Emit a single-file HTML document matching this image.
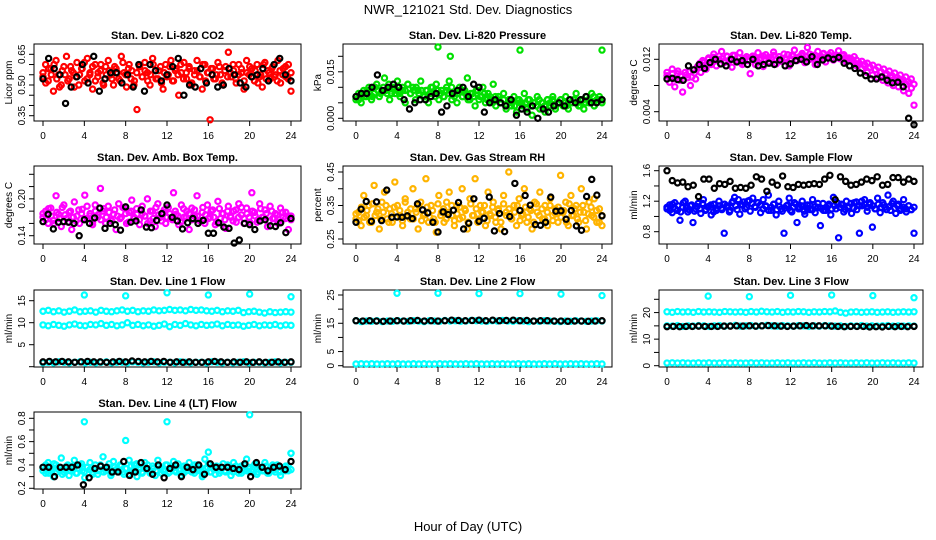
<!DOCTYPE html>
<html><head><meta charset="utf-8">
<style>
html,body{margin:0;padding:0;background:#fff;}
svg{display:block;font-family:"Liberation Sans",Arial,sans-serif;}
</style></head>
<body>
<svg id="chart" width="936" height="540" viewBox="0 0 936 540" xmlns="http://www.w3.org/2000/svg">
<rect width="936" height="540" fill="#fff"/>
<text x="468" y="14" text-anchor="middle" font-size="13">NWR_121021 Std. Dev. Diagnostics</text>
<text x="468" y="531" text-anchor="middle" font-size="13">Hour of Day (UTC)</text>
</svg>
<script>
// ---------- data ----------
const xTickLabels = ["0","4","8","12","16","20","24"];
const co2Main = [0.56,0.60,0.52,0.58,0.47,0.62,0.55,0.50,0.59,0.64,0.53,0.57,0.49,0.61,0.55,0.58,0.52,0.63,0.56,0.48,0.60,0.54,0.57,0.51,0.59,0.62,0.55,0.50,0.58,0.53,0.64,0.56,0.49,0.60,0.57,0.52,0.38,0.59,0.54,0.61,0.56,0.50,0.63,0.57,0.53,0.59,0.48,0.60,0.55,0.62,0.52,0.58,0.45,0.56,0.61,0.53,0.59,0.50,0.57,0.62,0.54,0.48,0.60,0.56,0.33,0.58,0.53,0.61,0.55,0.50,0.59,0.66,0.54,0.57,0.51,0.60,0.56,0.48,0.62,0.55,0.58,0.52,0.60,0.54,0.49,0.61,0.57,0.53,0.59,0.55,0.62,0.51,0.58,0.54,0.60,0.47];
const co2Extra = [0.54,0.51,0.58,0.55,0.60,0.53,0.49,0.57,0.55,0.52,0.59,0.56,0.54,0.50,0.58,0.61,0.53,0.55,0.59,0.52,0.56,0.60,0.50,0.55,0.57,0.53,0.59,0.56,0.52,0.61,0.55,0.58,0.53,0.50,0.56,0.59,0.54,0.57,0.52,0.55,0.60,0.53,0.57,0.51,0.56,0.54,0.59,0.52,0.57,0.55,0.60,0.53,0.56,0.58,0.51,0.55,0.57,0.54,0.60,0.52,0.56,0.58,0.53,0.55,0.59,0.51,0.57,0.54,0.56,0.60,0.53,0.55,0.58,0.52,0.56,0.59,0.54,0.57,0.51,0.55,0.60,0.53,0.56,0.58,0.54,0.52,0.57,0.55,0.59,0.53,0.56];
const co2Ref = [0.53,0.63,0.58,0.55,0.41,0.49,0.54,0.60,0.51,0.64,0.47,0.53,0.56,0.56,0.51,0.55,0.49,0.60,0.47,0.60,0.57,0.52,0.55,0.59,0.63,0.45,0.50,0.49,0.58,0.51,0.55,0.49,0.50,0.58,0.55,0.51,0.49,0.54,0.55,0.58,0.52,0.60,0.63,0.55,0.52];
const pressMain = [0.006,0.008,0.005,0.009,0.007,0.010,0.006,0.008,0.011,0.007,0.009,0.013,0.008,0.006,0.010,0.008,0.012,0.007,0.009,0.005,0.011,0.008,0.010,0.006,0.009,0.012,0.007,0.009,0.005,0.010,0.008,0.011,0.006,0.009,0.007,0.010,0.012,0.006,0.008,0.005,0.010,0.007,0.009,0.013,0.006,0.008,0.004,0.009,0.007,0.010,0.005,0.008,0.006,0.011,0.004,0.007,0.005,0.008,0.003,0.006,0.004,0.007,0.002,0.006,0.005,0.008,0.003,0.006,0.001,0.005,0.007,0.003,0.005,0.002,0.006,0.004,0.007,0.003,0.005,0.006,0.004,0.007,0.003,0.005,0.006,0.008,0.004,0.006,0.003,0.007,0.005,0.008,0.004,0.006,0.007,0.005];
const pressExtra = [0.007,0.006,0.008,0.007,0.009,0.008,0.007,0.010,0.009,0.008,0.010,0.009,0.011,0.008,0.010,0.009,0.008,0.010,0.009,0.011,0.008,0.009,0.010,0.008,0.009,0.007,0.009,0.008,0.010,0.007,0.009,0.008,0.007,0.009,0.008,0.010,0.007,0.008,0.009,0.007,0.008,0.006,0.008,0.007,0.009,0.006,0.007,0.008,0.006,0.007,0.005,0.007,0.006,0.005,0.006,0.004,0.006,0.005,0.004,0.006,0.005,0.004,0.005,0.006,0.004,0.005,0.004,0.006,0.005,0.004,0.006,0.005,0.006,0.004,0.005,0.006,0.005,0.004,0.006,0.005,0.006,0.005,0.004,0.006,0.005,0.006,0.005,0.007,0.005,0.006,0.006];
const pressRef = [0.007,0.008,0.008,0.010,0.014,0.009,0.010,0.011,0.010,0.006,0.003,0.005,0.006,0.006,0.007,0.008,0.002,0.004,0.008,0.009,0.010,0.007,0.011,0.010,0.002,0.005,0.006,0.005,0.004,0.006,0.001,0.003,0.002,0.004,0.000,0.003,0.002,0.004,0.005,0.004,0.006,0.005,0.006,0.007,0.005,0.005,0.006];
const pressOutHours = [8,9.2,16,24];
const pressOutVals = [0.023,0.020,0.022,0.022];
const tempMain = [0.0095,0.0085,0.0105,0.0078,0.0098,0.0088,0.0070,0.0100,0.0092,0.0080,0.0104,0.0090,0.0110,0.0100,0.0115,0.0105,0.0122,0.0112,0.0128,0.0110,0.0120,0.0132,0.0115,0.0125,0.0118,0.0108,0.0126,0.0116,0.0130,0.0112,0.0122,0.0118,0.0098,0.0125,0.0112,0.0130,0.0119,0.0109,0.0127,0.0116,0.0122,0.0131,0.0113,0.0124,0.0117,0.0128,0.0120,0.0110,0.0126,0.0134,0.0118,0.0124,0.0129,0.0115,0.0138,0.0120,0.0126,0.0112,0.0132,0.0122,0.0128,0.0116,0.0124,0.0130,0.0119,0.0125,0.0133,0.0121,0.0127,0.0116,0.0122,0.0118,0.0124,0.0110,0.0114,0.0106,0.0112,0.0100,0.0108,0.0096,0.0104,0.0092,0.0100,0.0088,0.0096,0.0084,0.0092,0.0080,0.0088,0.0078,0.0086,0.0072,0.0082,0.0068,0.0076,0.0050];
const tempExtra = [0.0100,0.0092,0.0098,0.0090,0.0102,0.0094,0.0088,0.0096,0.0101,0.0093,0.0099,0.0108,0.0114,0.0118,0.0110,0.0120,0.0116,0.0123,0.0118,0.0125,0.0121,0.0117,0.0124,0.0120,0.0126,0.0119,0.0122,0.0115,0.0121,0.0124,0.0118,0.0123,0.0120,0.0116,0.0122,0.0125,0.0119,0.0123,0.0121,0.0126,0.0120,0.0124,0.0118,0.0122,0.0127,0.0121,0.0125,0.0119,0.0123,0.0126,0.0120,0.0124,0.0128,0.0122,0.0126,0.0121,0.0125,0.0129,0.0123,0.0127,0.0122,0.0126,0.0124,0.0121,0.0125,0.0122,0.0118,0.0121,0.0116,0.0119,0.0113,0.0117,0.0110,0.0114,0.0108,0.0111,0.0104,0.0108,0.0101,0.0105,0.0098,0.0102,0.0095,0.0099,0.0092,0.0096,0.0089,0.0093,0.0086,0.0090,0.0082];
const tempRef = [0.0090,0.0091,0.0089,0.0088,0.0110,0.0104,0.0112,0.0106,0.0115,0.0120,0.0113,0.0110,0.0120,0.0116,0.0118,0.0112,0.0120,0.0110,0.0112,0.0114,0.0112,0.0119,0.0110,0.0113,0.0118,0.0120,0.0116,0.0124,0.0112,0.0119,0.0122,0.0120,0.0123,0.0114,0.0110,0.0106,0.0099,0.0095,0.0090,0.0090,0.0093,0.0088,0.0084,0.0085,0.0078,0.0030,0.0020];
const ambMain = [0.170,0.180,0.160,0.185,0.165,0.205,0.175,0.155,0.190,0.168,0.178,0.150,0.195,0.172,0.160,0.183,0.206,0.168,0.176,0.158,0.190,0.170,0.217,0.180,0.160,0.188,0.166,0.175,0.150,0.192,0.170,0.185,0.160,0.178,0.198,0.168,0.175,0.158,0.188,0.172,0.200,0.164,0.180,0.155,0.192,0.170,0.178,0.160,0.186,0.168,0.210,0.175,0.158,0.190,0.170,0.180,0.150,0.185,0.172,0.205,0.165,0.178,0.160,0.190,0.170,0.182,0.158,0.196,0.168,0.176,0.152,0.188,0.170,0.180,0.162,0.192,0.174,0.160,0.185,0.170,0.210,0.178,0.162,0.192,0.170,0.182,0.155,0.188,0.168,0.176,0.160,0.185,0.170,0.178,0.150,0.172];
const ambExtra = [0.176,0.166,0.184,0.172,0.160,0.178,0.168,0.186,0.174,0.162,0.180,0.170,0.164,0.182,0.176,0.168,0.188,0.172,0.162,0.180,0.174,0.166,0.184,0.170,0.178,0.164,0.182,0.172,0.168,0.186,0.176,0.162,0.180,0.170,0.184,0.166,0.176,0.172,0.160,0.180,0.168,0.186,0.174,0.164,0.182,0.170,0.176,0.166,0.180,0.172,0.162,0.184,0.170,0.176,0.166,0.182,0.172,0.164,0.186,0.174,0.168,0.180,0.170,0.162,0.184,0.176,0.166,0.180,0.172,0.164,0.182,0.170,0.186,0.168,0.176,0.162,0.180,0.172,0.166,0.184,0.170,0.176,0.164,0.180,0.168,0.174,0.162,0.178,0.168,0.172,0.166];
const ambRef = [0.163,0.175,0.151,0.162,0.163,0.162,0.160,0.140,0.166,0.160,0.169,0.185,0.152,0.160,0.158,0.149,0.187,0.162,0.164,0.182,0.154,0.153,0.165,0.176,0.190,0.170,0.164,0.151,0.161,0.168,0.160,0.165,0.144,0.144,0.161,0.154,0.152,0.128,0.133,0.160,0.158,0.150,0.164,0.166,0.156,0.155,0.161,0.145,0.168];
const rhMain = [0.310,0.330,0.290,0.380,0.320,0.350,0.300,0.410,0.330,0.280,0.360,0.390,0.310,0.340,0.300,0.420,0.350,0.320,0.290,0.370,0.330,0.310,0.400,0.340,0.280,0.360,0.320,0.430,0.300,0.350,0.310,0.270,0.380,0.330,0.300,0.360,0.390,0.320,0.290,0.350,0.310,0.400,0.340,0.280,0.370,0.320,0.430,0.300,0.350,0.330,0.290,0.390,0.320,0.360,0.300,0.340,0.280,0.380,0.330,0.450,0.310,0.350,0.290,0.370,0.320,0.400,0.300,0.340,0.280,0.360,0.330,0.390,0.310,0.350,0.290,0.370,0.320,0.340,0.300,0.440,0.330,0.360,0.290,0.380,0.320,0.350,0.300,0.400,0.330,0.280,0.360,0.320,0.370,0.300,0.340,0.290];
const rhExtra = [0.325,0.305,0.345,0.315,0.335,0.300,0.355,0.320,0.340,0.310,0.330,0.350,0.300,0.325,0.345,0.315,0.335,0.305,0.360,0.320,0.340,0.310,0.330,0.350,0.305,0.325,0.345,0.315,0.335,0.300,0.355,0.320,0.340,0.310,0.330,0.350,0.305,0.325,0.345,0.315,0.335,0.300,0.355,0.320,0.340,0.310,0.330,0.350,0.305,0.325,0.345,0.315,0.335,0.300,0.355,0.320,0.340,0.310,0.330,0.350,0.305,0.325,0.345,0.315,0.335,0.300,0.355,0.320,0.340,0.310,0.330,0.350,0.305,0.325,0.345,0.315,0.335,0.300,0.355,0.320,0.340,0.310,0.330,0.350,0.305,0.325,0.345,0.315,0.335,0.300,0.320];
const rhRef = [0.300,0.339,0.362,0.303,0.361,0.305,0.396,0.315,0.316,0.315,0.319,0.311,0.355,0.337,0.328,0.300,0.271,0.331,0.323,0.336,0.359,0.280,0.297,0.370,0.303,0.312,0.375,0.274,0.326,0.272,0.317,0.416,0.335,0.380,0.351,0.293,0.291,0.300,0.375,0.333,0.334,0.309,0.335,0.289,0.276,0.377,0.428,0.381,0.319];
const flowMain = [1.10,1.15,1.05,1.18,1.08,0.95,1.12,1.20,1.06,1.14,0.92,1.10,1.17,1.04,1.22,1.09,1.13,1.02,1.16,1.08,1.20,1.11,0.78,1.14,1.06,1.18,1.25,1.09,1.03,1.15,1.10,1.20,1.07,1.24,1.12,1.18,1.05,1.22,1.13,1.28,1.08,1.16,1.02,1.20,1.10,0.78,1.14,1.24,1.06,1.18,0.92,1.12,1.20,1.03,1.15,1.09,1.22,1.05,1.12,0.88,1.17,1.08,1.14,1.02,1.25,1.10,0.72,1.16,1.06,1.20,1.12,1.04,1.18,1.09,0.78,1.14,1.22,1.07,1.16,0.86,1.10,1.24,1.05,1.18,1.12,1.28,1.08,1.20,1.04,1.16,1.10,1.22,1.06,1.14,1.09,0.78];
const flowExtra = [1.12,1.08,1.16,1.10,1.14,1.06,1.18,1.11,1.09,1.15,1.07,1.13,1.10,1.17,1.08,1.12,1.15,1.06,1.11,1.14,1.09,1.16,1.12,1.08,1.20,1.14,1.22,1.16,1.19,1.12,1.21,1.17,1.13,1.18,1.15,1.10,1.14,1.08,1.12,1.16,1.09,1.13,1.07,1.11,1.15,1.08,1.12,1.16,1.10,1.14,1.07,1.11,1.15,1.09,1.13,1.17,1.11,1.08,1.12,1.16,1.10,1.14,1.18,1.12,1.15,1.09,1.13,1.17,1.11,1.19,1.14,1.20,1.16,1.12,1.18,1.14,1.10,1.16,1.12,1.15,1.09,1.13,1.17,1.11,1.14,1.08,1.12,1.10,1.14,1.09,1.12];
const flowRef = [1.60,1.47,1.44,1.45,1.39,1.41,1.26,1.49,1.49,1.37,1.43,1.42,1.46,1.37,1.38,1.37,1.41,1.52,1.49,1.33,1.45,1.41,1.53,1.39,1.38,1.42,1.41,1.42,1.43,1.42,1.49,1.54,1.22,1.52,1.46,1.41,1.42,1.45,1.49,1.47,1.52,1.41,1.42,1.51,1.51,1.45,1.49,1.46];
const l1Upper = [12.6,12.8,12.5,12.7,12.4,12.6,12.9,12.5,12.6,12.7,12.4,12.8,12.6,12.5,12.7,12.9,12.6,12.8,12.5,12.7,12.6,12.9,12.7,12.8,13.0,12.8,12.9,12.7,13.0,12.8,12.9,12.7,12.6,12.8,12.5,12.7,12.6,12.8,12.3,12.5,12.6,12.4,12.2,12.5,12.3,12.4,12.5,12.4];
const l1Mid = [9.5,9.3,9.6,9.4,9.2,9.5,9.7,9.4,9.3,9.6,9.5,9.8,9.4,9.6,9.3,9.5,10.0,9.4,9.6,9.3,9.5,9.2,9.4,9.7,9.1,9.6,9.4,9.8,9.5,9.3,9.6,9.4,9.5,9.7,9.3,9.6,9.4,9.5,9.2,9.4,9.6,9.3,9.5,9.4,9.6,9.3,9.5,9.4];
const l1Low = [0.9,1.0,0.9,1.1,1.0,0.9,1.0,1.1,0.9,1.0,0.9,1.0,1.1,0.9,1.0,1.0,0.9,1.1,1.0,0.9,1.0,1.1,0.9,1.0,1.0,0.9,1.1,1.0,0.9,1.0,1.0,0.9,1.1,1.0,0.9,1.0,0.9,1.0,1.1,0.9,1.0,1.0,0.9,1.0,1.1,0.9,1.0,1.0];
const l1Ref = [1.1,1.2,1.1,1.2,1.1,1.0,1.1,1.2,1.1,1.1,1.0,1.1,1.2,1.1,1.3,1.2,1.1,1.2,1.1,1.2,1.0,1.1,1.0,1.1,1.0,1.0,1.1,1.2,1.1,1.0,1.1,1.0,1.1,1.0,1.1,1.0,1.0,1.1,1.0,1.1];
const l1OutHours = [4,8,12,16,20,24];
const l1OutVals = [16.3,16.1,16.8,16.3,16.5,15.9];
const l2Upper = [15.9,15.6,15.8,15.7,15.9,15.6,15.8,15.7,15.9,15.8,15.7,15.9,15.8,15.6,15.9,15.8,15.7,16.0,15.8,15.9,15.7,15.8,16.0,15.9,15.8,15.7,15.9,15.8,16.0,15.8,15.7,15.9,15.8,15.6,15.8,15.7,15.9,15.8,15.7,15.6,15.8,15.7,15.9,15.8,15.7,15.8,15.9,15.8];
const l2Low = [0.6,0.7,0.6,0.7,0.6,0.6,0.7,0.6,0.7,0.6,0.6,0.7,0.6,0.7,0.6,0.6,0.7,0.6,0.7,0.6,0.6,0.7,0.6,0.7,0.6,0.6,0.7,0.6,0.7,0.6,0.6,0.7,0.6,0.7,0.6,0.6,0.7,0.6,0.7,0.6,0.6,0.7,0.6,0.7,0.6,0.6,0.7,0.6];
const l2Ref = [15.9,15.8,15.9,15.8,15.7,15.8,15.9,15.8,15.9,16.0,15.8,15.9,15.8,15.9,16.1,16.0,15.9,16.0,16.1,15.9,16.1,15.9,16.0,16.1,15.9,16.0,15.8,15.9,15.9,15.8,15.8,15.7,15.8,15.8,15.7,15.8,15.9];
const l2OutHours = [4,8,12,16,20,24];
const l2OutVals = [25.6,25.6,25.5,25.5,25.3,24.8];
const l3Upper = [20.3,20.1,20.4,20.2,20.3,20.1,20.4,20.2,20.3,20.2,20.1,20.4,20.3,20.2,20.3,20.1,20.4,20.2,20.5,20.3,20.2,20.4,20.1,20.3,20.2,20.4,20.3,20.1,20.3,20.2,20.4,20.3,20.6,20.1,19.8,20.2,20.3,20.1,20.2,20.3,20.1,20.2,20.3,20.1,20.2,20.3,20.2,20.3];
const l3Mid = [15.0,14.9,15.1,14.8,15.0,14.9,15.1,15.0,14.8,15.0,15.1,14.9,15.0,15.2,14.9,15.0,15.1,14.9,15.0,15.2,15.0,14.9,15.1,15.0,14.9,15.1,15.0,14.8,15.0,14.9,15.1,15.0,14.9,15.0,14.8,15.0,14.9,15.1,14.9,15.0,14.9,15.0,15.1,14.9,15.0,14.9,15.0,14.9];
const l3Low = [1.0,1.1,1.0,1.1,1.0,1.0,1.1,1.0,1.1,1.0,1.0,1.1,1.0,1.1,1.0,1.0,1.1,1.0,1.1,1.0,1.0,1.1,1.0,1.1,1.0,1.0,1.1,1.0,1.1,1.0,1.0,1.1,1.0,1.1,1.0,1.0,1.1,1.0,1.1,1.0,1.0,1.1,1.0,1.1,1.0,1.0,1.1,1.0];
const l3Ref = [14.7,14.8,14.7,14.8,14.8,14.9,14.8,14.8,14.8,14.9,14.9,15.0,14.9,15.0,14.9,15.0,15.1,15.0,14.9,14.8,14.9,15.0,15.1,15.0,15.0,15.0,14.9,14.8,14.7,14.8,14.8,14.8,14.6,14.7,14.6,14.8,14.7,14.8,14.7,14.8];
const l3OutHours = [4,8,12,16,20,24];
const l3OutVals = [26.2,26.0,26.5,26.6,26.4,25.6];
const l4Main = [0.38,0.33,0.42,0.35,0.30,0.40,0.36,0.46,0.34,0.39,0.31,0.37,0.44,0.33,0.40,0.35,0.29,0.38,0.42,0.34,0.37,0.32,0.40,0.47,0.35,0.38,0.31,0.43,0.36,0.34,0.39,0.32,0.37,0.44,0.35,0.40,0.30,0.38,0.34,0.42,0.36,0.33,0.39,0.31,0.44,0.37,0.35,0.40,0.33,0.38,0.43,0.34,0.36,0.31,0.39,0.35,0.42,0.37,0.33,0.40,0.36,0.30,0.45,0.38,0.34,0.39,0.32,0.37,0.35,0.41,0.34,0.38,0.31,0.42,0.36,0.33,0.39,0.35,0.45,0.37,0.34,0.40,0.32,0.38,0.35,0.42,0.33,0.37,0.40,0.34,0.38,0.31,0.36,0.39,0.35,0.50];
const l4Extra = [0.35,0.40,0.33,0.37,0.41,0.34,0.38,0.32,0.36,0.40,0.35,0.39,0.33,0.37,0.41,0.34,0.38,0.36,0.32,0.40,0.35,0.39,0.34,0.37,0.41,0.33,0.38,0.36,0.40,0.34,0.37,0.32,0.39,0.35,0.41,0.36,0.33,0.38,0.40,0.34,0.37,0.35,0.39,0.33,0.36,0.40,0.34,0.38,0.35,0.41,0.36,0.33,0.39,0.37,0.34,0.40,0.35,0.38,0.32,0.37,0.41,0.34,0.36,0.39,0.33,0.38,0.35,0.40,0.36,0.34,0.39,0.37,0.33,0.40,0.35,0.38,0.36,0.41,0.34,0.37,0.35,0.39,0.33,0.38,0.36,0.40,0.34,0.37,0.35,0.39,0.36];
const l4Ref = [0.38,0.38,0.30,0.38,0.38,0.38,0.40,0.23,0.29,0.37,0.39,0.38,0.34,0.34,0.43,0.31,0.34,0.42,0.37,0.32,0.40,0.29,0.37,0.40,0.30,0.38,0.36,0.40,0.32,0.41,0.38,0.38,0.38,0.37,0.36,0.41,0.30,0.42,0.38,0.35,0.38,0.39,0.36,0.43];
const l4OutHours = [4,8,12,16,20,24];
const l4OutVals = [0.77,0.61,0.77,0.51,0.83,0.50];

// ---------- layout ----------
const svg = document.getElementById('chart');
const NS = 'http://www.w3.org/2000/svg';
const cols = [{l:34,r:301,x0:43,x24:291},{l:343,r:612,x0:356,x24:602},{l:659,r:923,x0:667,x24:914}];
const rows = [{t:44,b:121},{t:166,b:244},{t:290,b:367},{t:412,b:489}];

function mk(tag, attrs, parent){
  const e = document.createElementNS(NS, tag);
  for (const k in attrs) e.setAttribute(k, attrs[k]);
  (parent||svg).appendChild(e);
  return e;
}

function makePanel(name, title, ylab, c, r, v0, p0, v1, p1, ticks, labels){
  const col = cols[c], row = rows[r];
  const g = mk('g', {});
  
  
  const xs = h => col.x0 + (col.x24 - col.x0) * h / 24;
  const ys = v => p0 + (v - v0) * (p1 - p0) / (v1 - v0);
  const box = mk('rect', {x:col.l, y:row.t, width:col.r-col.l, height:row.b-row.t, fill:'none', stroke:'#000', 'stroke-width':1}, g);
  
  
  const t = mk('text', {x:(col.l+col.r)/2, y:row.t-5, 'text-anchor':'middle', 'font-size':11, 'font-weight':'bold'}, g);
  t.textContent = title;
  
  
  const xa = mk('g', {}, g);
  
  
  mk('line', {x1:xs(0), x2:xs(24), y1:row.b, y2:row.b, stroke:'#000'}, xa);
  xTickLabels.forEach(lb => {
    const x = xs(Number(lb));
    mk('line', {x1:x, x2:x, y1:row.b, y2:row.b+5, stroke:'#000'}, xa);
    const tx = mk('text', {x:x, y:row.b+18, 'text-anchor':'middle', 'font-size':10}, xa);
    tx.textContent = lb;
    
    
  });
  const ya = mk('g', {}, g);
  
  
  mk('line', {x1:col.l, x2:col.l, y1:ys(ticks[0]), y2:ys(ticks[ticks.length-1]), stroke:'#000'}, ya);
  ticks.forEach(v => {
    const y = ys(v);
    mk('line', {x1:col.l-5, x2:col.l, y1:y, y2:y, stroke:'#000'}, ya);
  });
  labels.forEach(lb => {
    const y = ys(Number(lb));
    const tx = mk('text', {x:col.l-9, y:y, 'text-anchor':'middle', 'font-size':10, transform:`rotate(-90 ${col.l-9} ${y})`}, ya);
    tx.textContent = lb;
    
    
  });
  const yl = mk('text', {x:col.l-22, y:(row.t+row.b)/2, 'text-anchor':'middle', 'font-size':10, transform:`rotate(-90 ${col.l-22} ${(row.t+row.b)/2})`}, g);
  yl.textContent = ylab;
  
  
  return {g, xs, ys};
}

function points(p, vals, color, name, hours){
  const sg = mk('g', {fill:'none', stroke:color, 'stroke-width':2.2}, p.g);
  
  
  vals.forEach((v, i) => {
    const h = hours ? hours[i] : (vals.length > 1 ? 24 * i / (vals.length - 1) : 0);
    const c = mk('circle', {cx:p.xs(h), cy:p.ys(v), r:2.6}, sg);
    
    
  });
}

// ---------- panels ----------
let p;
p = makePanel('panel-co2', 'Stan. Dev. Li-820 CO2', 'Licor ppm', 0, 0, 0.65, 54.3, 0.35, 115.7,
  [0.35,0.40,0.45,0.50,0.55,0.60,0.65], ['0.35','0.50','0.65']);
points(p, co2Main, '#ff0000', 'co2-series');
points(p, co2Extra, '#ff0000', 'co2-series-b');
points(p, co2Ref, '#000000', 'co2-reference-series');

p = makePanel('panel-pressure', 'Stan. Dev. Li-820 Pressure', 'kPa', 1, 0, 0.020, 56.3, 0.000, 118.3,
  [0.000,0.005,0.010,0.015,0.020], ['0.000','0.015']);
points(p, pressMain, '#00e000', 'pressure-series');
points(p, pressExtra, '#00e000', 'pressure-series-b');
points(p, pressOutVals, '#00e000', 'pressure-outliers', pressOutHours);
points(p, pressRef, '#000000', 'pressure-reference-series');

p = makePanel('panel-temp', 'Stan. Dev. Li-820 Temp.', 'degrees C', 2, 0, 0.012, 59.3, 0.004, 111.7,
  [0.004,0.008,0.012], ['0.004','0.012']);
points(p, tempMain, '#ff00ff', 'temp-series');
points(p, tempExtra, '#ff00ff', 'temp-series-b');
points(p, tempRef, '#000000', 'temp-reference-series');

p = makePanel('panel-amb-box', 'Stan. Dev. Amb. Box Temp.', 'degrees C', 0, 1, 0.24, 174.3, 0.14, 235.7,
  [0.14,0.16,0.18,0.20,0.22,0.24], ['0.14','0.20']);
points(p, ambMain, '#ff00ff', 'amb-box-series');
points(p, ambExtra, '#ff00ff', 'amb-box-series-b');
points(p, ambRef, '#000000', 'amb-box-reference-series');

p = makePanel('panel-rh', 'Stan. Dev. Gas Stream RH', 'percent', 1, 1, 0.45, 172, 0.25, 239,
  [0.25,0.30,0.35,0.40,0.45], ['0.25','0.35','0.45']);
points(p, rhMain, '#ffb400', 'rh-series');
points(p, rhExtra, '#ffb400', 'rh-series-b');
points(p, rhRef, '#000000', 'rh-reference-series');

p = makePanel('panel-sample-flow', 'Stan. Dev. Sample Flow', 'ml/min', 2, 1, 1.6, 170.7, 0.8, 231.7,
  [0.8,1.0,1.2,1.4,1.6], ['0.8','1.2','1.6']);
points(p, flowMain, '#0000ff', 'sample-flow-series');
points(p, flowExtra, '#0000ff', 'sample-flow-series-b');
points(p, flowRef, '#000000', 'sample-flow-reference-series');

p = makePanel('panel-line1', 'Stan. Dev. Line 1 Flow', 'ml/min', 0, 2, 15, 300.7, 0, 366.7,
  [0,5,10,15], ['5','10','15']);
points(p, l1Upper, '#00ffff', 'line1-upper-series');
points(p, l1Mid, '#00ffff', 'line1-mid-series');
points(p, l1Low, '#00ffff', 'line1-low-series');
points(p, l1OutVals, '#00ffff', 'line1-outliers', l1OutHours);
points(p, l1Ref, '#000000', 'line1-reference-series');

p = makePanel('panel-line2', 'Stan. Dev. Line 2 Flow', 'ml/min', 1, 2, 25, 295, 0, 365.7,
  [0,5,10,15,20,25], ['0','5','15','25']);
points(p, l2Upper, '#00ffff', 'line2-upper-series');
points(p, l2Low, '#00ffff', 'line2-low-series');
points(p, l2OutVals, '#00ffff', 'line2-outliers', l2OutHours);
points(p, l2Ref, '#000000', 'line2-reference-series');

p = makePanel('panel-line3', 'Stan. Dev. Line 3 Flow', 'ml/min', 2, 2, 25, 299.3, 0, 365.7,
  [0,5,10,15,20,25], ['0','10','20']);
points(p, l3Upper, '#00ffff', 'line3-upper-series');
points(p, l3Mid, '#00ffff', 'line3-mid-series');
points(p, l3Low, '#00ffff', 'line3-low-series');
points(p, l3OutVals, '#00ffff', 'line3-outliers', l3OutHours);
points(p, l3Ref, '#000000', 'line3-reference-series');

p = makePanel('panel-line4', 'Stan. Dev. Line 4 (LT) Flow', 'ml/min', 0, 3, 0.8, 418.3, 0.2, 488.3,
  [0.2,0.3,0.4,0.5,0.6,0.7,0.8], ['0.2','0.4','0.6','0.8']);
points(p, l4Main, '#00ffff', 'line4-series');
points(p, l4Extra, '#00ffff', 'line4-series-b');
points(p, l4OutVals, '#00ffff', 'line4-outliers', l4OutHours);
points(p, l4Ref, '#000000', 'line4-reference-series');
</script>
</body></html>
